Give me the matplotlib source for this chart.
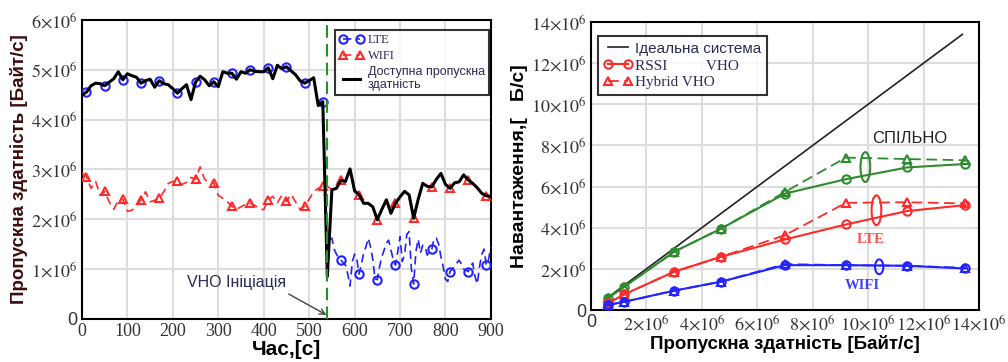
import numpy as np
import matplotlib
matplotlib.use('Agg')
import matplotlib.pyplot as plt
from matplotlib.patches import Ellipse

plt.rcParams['font.family'] = ['Liberation Sans', 'DejaVu Sans']
plt.rcParams['mathtext.fontset'] = 'stix'

# ---- left panel data (throughput vs time, values in 1e6 B/s) ----
t_pre = np.arange(0, 541, 10)
lte_pre = [4.50, 4.55, 4.68, 4.73, 4.72, 4.68, 4.75, 4.82, 4.96, 4.80,
           4.92, 4.88, 4.85, 4.73, 4.78, 4.81, 4.65, 4.78, 4.72, 4.70,
           4.62, 4.53, 4.62, 4.70, 4.40, 4.75, 4.87, 4.80, 4.68, 4.76,
           4.66, 4.96, 4.93, 4.93, 4.81, 4.96, 4.93, 5.00, 4.97, 4.96,
           4.96, 5.04, 4.82, 5.09, 5.02, 5.06, 4.98, 4.90, 4.78, 4.73,
           4.78, 4.84, 4.28, 4.36, 0.85]
t_post = np.arange(545, 901, 5)
lte_post = [1.60, 1.62, 1.40, 1.30, 1.22, 1.19, 1.12, 1.08, 0.90, 0.66,
            1.15, 1.30, 1.20, 0.90, 1.10, 1.32, 1.45, 1.62, 1.45, 1.20,
            0.80, 0.79, 1.05, 1.25, 1.38, 1.52, 1.58, 1.38, 1.20, 1.08,
            1.35, 1.65, 1.15, 1.30, 1.70, 1.75, 1.00, 0.70, 1.35, 1.60,
            1.32, 1.48, 1.45, 1.28, 1.35, 1.40, 1.62, 1.62, 1.50, 1.25,
            1.05, 0.80, 0.75, 0.95, 1.00, 1.05, 1.12, 1.18, 1.10, 1.00,
            0.98, 0.95, 1.05, 1.12, 0.85, 0.70, 1.05, 1.30, 1.40, 1.08,
            1.20, 1.45]
t_wifi = np.arange(0, 901, 10)
wifi = [2.93, 2.85, 2.62, 2.76, 2.48, 2.56, 2.35, 2.20, 2.38, 2.40,
        2.16, 2.18, 2.28, 2.39, 2.55, 2.35, 2.38, 2.42, 2.55, 2.72,
        2.76, 2.76, 2.70, 2.74, 2.84, 2.80, 3.05, 2.80, 2.74, 2.73,
        2.48, 2.42, 2.35, 2.26, 2.20, 2.25, 2.30, 2.32, 2.28, 2.22,
        2.19, 2.38, 2.46, 2.33, 2.48, 2.36, 2.50, 2.35, 2.20, 2.26,
        2.40, 2.56, 2.62, 2.66, 2.66,
        2.59, 2.62, 2.78, 2.76, 3.01, 2.57, 2.49, 2.32, 2.32, 2.25,
        1.99, 2.20, 2.39, 2.12, 2.32, 2.45, 2.56, 2.49, 2.02, 2.40,
        2.72, 2.66, 2.65, 2.80, 2.92, 2.70, 2.62, 2.73, 2.75, 2.89,
        2.79, 2.72, 2.63, 2.52, 2.47, 2.46]
t_vho = 540

# ---- right panel data (load vs capacity, 1e6 B/s) ----
cap = [0.6, 1.2, 3.0, 4.7, 7.0, 9.2, 11.4, 13.5]
ideal_x = [0.5, 13.4]
joint_rssi = [0.57, 1.13, 2.83, 3.96, 5.66, 6.36, 6.93, 7.10]
joint_hyb = [0.57, 1.13, 2.83, 3.96, 5.74, 7.41, 7.34, 7.28]
lte_rssi = [0.32, 0.76, 1.86, 2.59, 3.43, 4.16, 4.81, 5.10]
lte_hyb = [0.32, 0.76, 1.86, 2.59, 3.64, 5.21, 5.24, 5.18]
wifi_rssi = [0.24, 0.40, 0.94, 1.38, 2.18, 2.18, 2.15, 2.02]
wifi_hyb = [0.24, 0.40, 0.94, 1.38, 2.23, 2.18, 2.15, 2.05]

BLUE = '#2323ff'
RED = '#ff2a2a'
GREEN = '#2e8b2e'


def sci_label(v):
    if v == 0:
        return '0'
    return r'$%d{\times}10^{6}$' % v


fig = plt.figure(figsize=(10.08, 3.62), dpi=100)

# ================= left panel =================
ax1 = fig.add_axes([0.0813, 0.119, 0.4057, 0.826])
e6 = 1e6
ax1.plot(t_pre, np.array(lte_pre) * e6, color=BLUE, lw=1.2, ls=(0, (5, 3)),
         marker='o', mfc='none', ms=6, mew=1.5, markevery=slice(1, None, 4),
         label='LTE', zorder=3)
ax1.plot(t_post, np.array(lte_post) * e6, color=BLUE, lw=1.2, ls=(0, (5, 3)),
         marker='o', mfc='none', ms=6, mew=1.5, markevery=slice(5, None, 8),
         zorder=3)
ax1.plot(t_wifi, np.array(wifi) * e6, color=RED, lw=1.2, ls=(0, (5, 3)),
         marker='^', mfc='none', ms=6, mew=1.5, markevery=slice(1, None, 4),
         label='WIFI', zorder=3)

t_wifi_arr = np.array(t_wifi)
post_mask = t_wifi_arr > t_vho
t_black = np.concatenate([t_pre, t_wifi_arr[post_mask]])
y_black = np.concatenate([lte_pre, np.array(wifi)[post_mask]])
ax1.plot(t_black, y_black * e6, color='black', lw=2.2,
         label='Доступна пропускна\nздатність', zorder=4)

ax1.axvline(t_vho, color='#1a9a1a', lw=1.5, ls=(0, (6, 3)), zorder=5)
ax1.text(340, 0.73e6, 'VHO Ініціація', ha='center', va='center',
         fontsize=11.5, color='#2b2b5a')
ax1.annotate('', xy=(t_vho - 2, 0.08e6), xytext=(455, 0.5e6),
             arrowprops=dict(arrowstyle='->', color='#444444', lw=1,
                             shrinkA=0, shrinkB=0))

ax1.set_xlim(0, 900)
ax1.set_ylim(0, 6e6)
ax1.set_xticks(np.arange(0, 901, 100))
ax1.set_xticklabels([str(v) for v in range(0, 901, 100)],
                    family='Liberation Serif')
ax1.set_yticks(np.arange(0, 7) * e6)
ax1.set_yticklabels([sci_label(v) for v in range(7)])
ax1.tick_params(length=0, labelsize=13, colors='#333333', pad=3)
ax1.grid(True, color='#dddddd', lw=1.5)
ax1.set_axisbelow(True)
for s in ax1.spines.values():
    s.set_linewidth(1.5)
ax1.set_xlabel('Час,[с]', fontsize=15, fontweight='bold', labelpad=0)
ax1.set_ylabel('Пропускна здатність [Байт/с]', fontsize=13.5,
               fontweight='bold', color='#3d0c0c', labelpad=2)
leg1 = ax1.legend(loc='upper left', bbox_to_anchor=(0.62, 0.965),
                  fontsize=9, frameon=True, fancybox=False, numpoints=2,
                  handlelength=2.0, borderpad=0.3, labelspacing=0.3,
                  handletextpad=0.3, borderaxespad=0)
leg1.get_frame().set_edgecolor('black')
leg1.get_frame().set_linewidth(1.5)
for txt in leg1.get_texts()[:2]:
    txt.set_family('Liberation Serif')
for txt in leg1.get_texts():
    txt.set_color('#2b2b5a')

# ================= right panel =================
ax2 = fig.add_axes([0.5863, 0.1436, 0.3849, 0.7955])
cap_a = np.array(cap) * e6
ax2.plot(np.array(ideal_x) * e6, np.array(ideal_x) * e6, color='#222222',
         lw=1.2, label='Ідеальна система', zorder=2)
for col, rs, hy in [(GREEN, joint_rssi, joint_hyb),
                    (RED, lte_rssi, lte_hyb),
                    (BLUE, wifi_rssi, wifi_hyb)]:
    lbl_r = 'RSSI          VHO' if col == RED else None
    lbl_h = 'Hybrid VHO' if col == RED else None
    ax2.plot(cap_a, np.array(hy) * e6, color=col, lw=1.3, ls=(0, (6, 3)),
             marker='^', mfc='none', ms=6, mew=1.5, label=lbl_h, zorder=3)
    ax2.plot(cap_a, np.array(rs) * e6, color=col, lw=1.5, ls='-',
             marker='o', mfc='none', ms=6, mew=1.5, label=lbl_r, zorder=3)

ax2.add_patch(Ellipse((9.9e6, 6.95e6), 0.35e6, 1.45e6, fill=False,
                      ec=GREEN, lw=1.5, zorder=4))
ax2.add_patch(Ellipse((10.3e6, 4.85e6), 0.35e6, 1.45e6, fill=False,
                      ec=RED, lw=1.5, zorder=4))
ax2.add_patch(Ellipse((10.4e6, 2.1e6), 0.3e6, 0.72e6, fill=False,
                      ec=BLUE, lw=1.5, zorder=4))
ax2.text(11.5e6, 8.33e6, 'СПІЛЬНО', ha='center', va='center', fontsize=12,
         color='#222222')
ax2.text(10.1e6, 3.43e6, 'LTE', ha='center', va='center', fontsize=10.5,
         color='#ff5050', family='Liberation Serif', fontweight='bold')
ax2.text(9.8e6, 1.18e6, 'WIFI', ha='center', va='center', fontsize=10.5,
         color='#4040ff', family='Liberation Serif', fontweight='bold')

ax2.set_xlim(0, 14e6)
ax2.set_ylim(0, 14e6)
ax2.set_xticks(np.arange(0, 15, 2) * e6)
ax2.set_xticklabels([sci_label(v) for v in range(0, 15, 2)])
ax2.set_yticks(np.arange(0, 15, 2) * e6)
ax2.set_yticklabels([sci_label(v) for v in range(0, 15, 2)])
ax2.tick_params(length=0, labelsize=13, colors='#333333', pad=3)
ax2.grid(True, color='#dddddd', lw=1.5)
ax2.set_axisbelow(True)
for s in ax2.spines.values():
    s.set_linewidth(1.5)
ax2.set_xlabel('Пропускна здатність [Байт/с]', fontsize=13.5,
               fontweight='bold', labelpad=1)
ax2.set_ylabel('Навантаження,[   Б/с]', fontsize=14, fontweight='bold',
               labelpad=2)

h, l = ax2.get_legend_handles_labels()
order = [0, 2, 1]
leg2 = ax2.legend([h[i] for i in order], [l[i] for i in order],
                  loc='upper left', bbox_to_anchor=(0.018, 0.95),
                  fontsize=11, frameon=True, fancybox=False, numpoints=2,
                  handlelength=1.9, borderpad=0.35, labelspacing=0.2,
                  handletextpad=0.2, borderaxespad=0)
leg2.get_frame().set_edgecolor('black')
leg2.get_frame().set_linewidth(1.5)
for txt in leg2.get_texts()[1:]:
    txt.set_family('Liberation Serif')
for txt in leg2.get_texts():
    txt.set_color('#2b2b5a')

fig.savefig('out.png', dpi=100)
